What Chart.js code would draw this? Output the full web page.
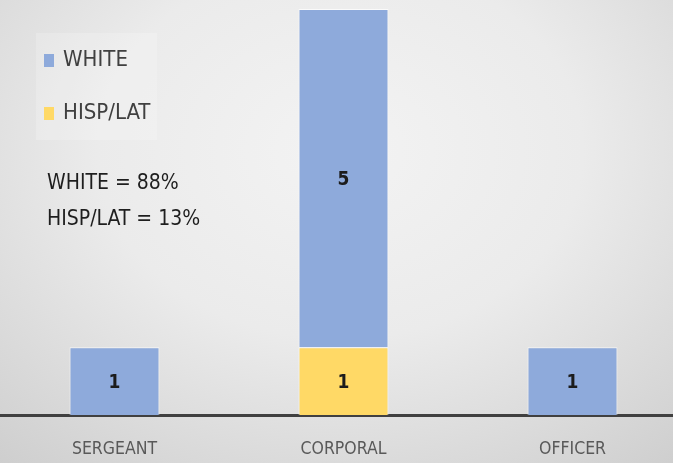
<!DOCTYPE html>
<html>
<head>
<meta charset="utf-8">
<script src="https://cdn.jsdelivr.net/npm/chart.js@4/dist/chart.umd.min.js"></script>
<style>
  html, body {
    margin: 0;
    padding: 0;
    width: 673px;
    height: 463px;
    overflow: hidden;
    background: radial-gradient(ellipse 540px 420px at 340px 150px, #f3f3f3 0%, #ebebeb 45%, #cdcdcd 100%);
  }
  #wrap {
    position: relative;
    width: 687px;
    height: 463px;
  }
</style>
</head>
<body>
<div id="wrap"><canvas id="rank-chart"></canvas></div>
<script>
const FONT = '"Liberation Sans Narrow", "DejaVu Sans Condensed", "Arial Narrow", sans-serif';

// Ranks along the x axis
const ranks = ['SERGEANT', 'CORPORAL', 'OFFICER'];

// Head counts per rank
const hispLat = [0, 1, 0];
const white = [1, 5, 1];

// Share summary written under the legend
const summaryLines = ['WHITE = 88%', 'HISP/LAT = 13%'];

const BLUE = '#8eaadb';
const YELLOW = '#ffd966';

// Count labels in the middle of each bar segment
const barValueLabels = {
  id: 'barValueLabels',
  afterDatasetsDraw(chart) {
    const ctx = chart.ctx;
    ctx.save();
    ctx.font = 'bold 19px ' + FONT;
    ctx.fillStyle = '#1c1c1c';
    ctx.textAlign = 'center';
    ctx.textBaseline = 'middle';
    chart.data.datasets.forEach((ds, i) => {
      const meta = chart.getDatasetMeta(i);
      meta.data.forEach((bar, j) => {
        const v = ds.data[j];
        if (!v) return;
        const mid = (bar.y + bar.base) / 2;
        ctx.fillText(String(v), bar.x, mid + 2);
      });
    });
    ctx.restore();
  },
};

// Vertical legend box plus the percentage notes
const sideLegend = {
  id: 'sideLegend',
  afterDraw(chart) {
    const ctx = chart.ctx;
    ctx.save();

    ctx.fillStyle = 'rgba(255, 255, 255, 0.2)';
    ctx.fillRect(36, 33, 121, 107);

    // top of the stack first
    const items = chart.data.datasets.slice().reverse();
    ctx.font = '22px ' + FONT;
    ctx.textBaseline = 'middle';
    items.forEach((ds, i) => {
      const y = 60 + i * 53;
      ctx.fillStyle = ds.backgroundColor;
      ctx.fillRect(44, y - 6, 10, 13);
      ctx.fillStyle = '#404040';
      ctx.fillText(ds.label, 63, y);
    });

    ctx.font = '21px ' + FONT;
    ctx.fillStyle = '#1e1e1e';
    summaryLines.forEach((line, i) => {
      ctx.fillText(line, 47, 184 + i * 36);
    });
    ctx.restore();
  },
};

new Chart(document.getElementById('rank-chart'), {
  type: 'bar',
  data: {
    labels: ranks,
    datasets: [
      {
        label: 'HISP/LAT',
        data: hispLat,
        backgroundColor: YELLOW,
        borderColor: 'rgba(255, 255, 255, 0.7)',
        borderWidth: 1,
      },
      {
        label: 'WHITE',
        data: white,
        backgroundColor: BLUE,
        borderColor: 'rgba(255, 255, 255, 0.7)',
        borderWidth: 1,
      },
    ],
  },
  options: {
    responsive: true,
    maintainAspectRatio: false,
    animation: false,
    layout: {
      padding: { top: 9, bottom: 0, left: 0, right: 0 },
    },
    datasets: {
      bar: {
        categoryPercentage: 1,
        barPercentage: 0.393,
      },
    },
    plugins: {
      legend: { display: false },
      tooltip: { enabled: false },
    },
    scales: {
      x: {
        stacked: true,
        grid: { display: false, drawTicks: false },
        border: { display: true, color: '#404040', width: 3 },
        ticks: {
          color: '#595959',
          padding: 24,
          font: { family: FONT, size: 17.5 },
        },
        afterFit(scale) {
          scale.height = 48;
        },
      },
      y: {
        stacked: true,
        display: false,
        min: 0,
        max: 6,
      },
    },
  },
  plugins: [barValueLabels, sideLegend],
});
</script>
</body>
</html>
